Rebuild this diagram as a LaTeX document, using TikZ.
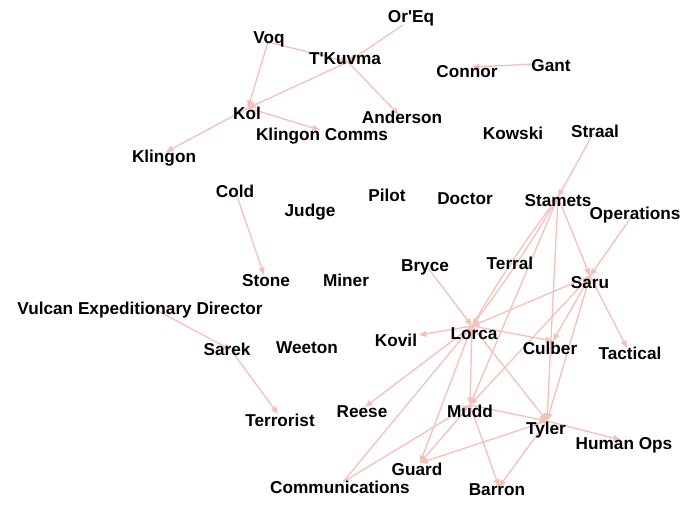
\documentclass[tikz,border=0pt]{standalone}
\usepackage{fontspec}
\setmainfont{Liberation Sans}
\usetikzlibrary{arrows.meta}
\definecolor{edgepink}{HTML}{F3C1B7}
\tikzset{
  lbl/.style={font=\bfseries\fontsize{17.2}{20}\selectfont,text=black,inner sep=0pt,text height=12.3pt,text depth=0pt},
  edge/.style={draw=edgepink,line width=1.3pt,-{Triangle[length=7.5pt,width=6pt]}},
}
\begin{document}
\begin{tikzpicture}[x=1pt,y=-1pt]
  \useasboundingbox (0,0) rectangle (700,505);
  % points where the links meet
  \coordinate (oreq) at (403,25);   \coordinate (voq) at (268,42);
  \coordinate (tkuvma) at (348,62); \coordinate (kol) at (248,108);
  \coordinate (anderson) at (399,115); \coordinate (kcomms) at (320,130);
  \coordinate (klingon) at (166,152); \coordinate (connor) at (472,67);
  \coordinate (gant) at (536,64);   \coordinate (straal) at (593,134);
  \coordinate (stamets) at (558,197); \coordinate (operations) at (632,216);
  \coordinate (cold) at (237,196);  \coordinate (stone) at (264,275);
  \coordinate (bryce) at (428,268); \coordinate (saru) at (590,276);
  \coordinate (vulcan) at (147,305); \coordinate (sarek) at (231,350);
  \coordinate (kovil) at (419,335); \coordinate (lorca) at (472,326);
  \coordinate (culber) at (553,341); \coordinate (tactical) at (627,348);
  \coordinate (reese) at (365,407); \coordinate (terrorist) at (278,414);
  \coordinate (mudd) at (470,405);  \coordinate (tyler) at (547,421);
  \coordinate (humanops) at (621,440); \coordinate (guard) at (420,463);
  \coordinate (comms) at (343,482); \coordinate (barron) at (499,487);

  % links
  \foreach \a/\b in {oreq/tkuvma,voq/tkuvma,voq/kol,tkuvma/kol,tkuvma/anderson,
      kol/kcomms,kol/klingon,gant/connor,straal/stamets,stamets/mudd,stamets/tyler,
      stamets/saru,operations/saru,bryce/lorca,saru/lorca,saru/culber,saru/mudd,
      saru/tyler,saru/tactical,lorca/kovil,lorca/culber,lorca/reese,lorca/mudd,
      lorca/guard,lorca/tyler,comms/lorca,comms/mudd,mudd/tyler,mudd/guard,
      mudd/barron,tyler/guard,tyler/barron,tyler/humanops,cold/stone,
      vulcan/sarek,sarek/terrorist}
    \draw[edge] (\a) -- (\b);
  \draw[edge] (stamets) to[bend left=3] (lorca);
  \draw[edge] (lorca) to[bend left=3] (stamets);

  % labels
  \node[lbl] (oreq-l) at (411,16) {Or\textquotesingle Eq};
  \node[lbl] (voq-l) at (269,37) {Voq};
  \node[lbl] (tkuvma-l) at (345,58) {T\textquotesingle Kuvma};
  \node[lbl] (connor-l) at (467,71) {Connor};
  \node[lbl] (gant-l) at (551,65) {Gant};
  \node[lbl] (kol-l) at (247,113) {Kol};
  \node[lbl] (anderson-l) at (402,117) {Anderson};
  \node[lbl] (kcomms-l) at (322,134) {Klingon Comms};
  \node[lbl] (klingon-l) at (164,156) {Klingon};
  \node[lbl] (kowski) at (513,133) {Kowski};
  \node[lbl] (straal-l) at (595,131) {Straal};
  \node[lbl] (cold-l) at (235,191) {Cold};
  \node[lbl] (judge) at (310,210) {Judge};
  \node[lbl] (pilot) at (387,195) {Pilot};
  \node[lbl] (doctor) at (465,198) {Doctor};
  \node[lbl] (stamets-l) at (558,200) {Stamets};
  \node[lbl] (operations-l) at (635,213) {Operations};
  \node[lbl] (stone-l) at (266,280) {Stone};
  \node[lbl] (miner) at (346,280) {Miner};
  \node[lbl] (bryce-l) at (425,265) {Bryce};
  \node[lbl] (terral) at (510,263) {Terral};
  \node[lbl] (saru-l) at (590,282) {Saru};
  \node[lbl] (vulcan-l) at (140,308) {Vulcan Expeditionary Director};
  \node[lbl] (sarek-l) at (227,349) {Sarek};
  \node[lbl] (weeton) at (307,347) {Weeton};
  \node[lbl] (kovil-l) at (396,340) {Kovil};
  \node[lbl] (lorca-l) at (474,333) {Lorca};
  \node[lbl] (culber-l) at (550,348) {Culber};
  \node[lbl] (tactical-l) at (630,353) {Tactical};
  \node[lbl] (reese-l) at (362,411) {Reese};
  \node[lbl] (terrorist-l) at (280,420) {Terrorist};
  \node[lbl] (mudd-l) at (470,411) {Mudd};
  \node[lbl] (tyler-l) at (546,428) {Tyler};
  \node[lbl] (humanops-l) at (624,443) {Human Ops};
  \node[lbl] (guard-l) at (417,469) {Guard};
  \node[lbl] (comms-l) at (340,487) {Communications};
  \node[lbl] (barron-l) at (497,489) {Barron};
\end{tikzpicture}
\end{document}
